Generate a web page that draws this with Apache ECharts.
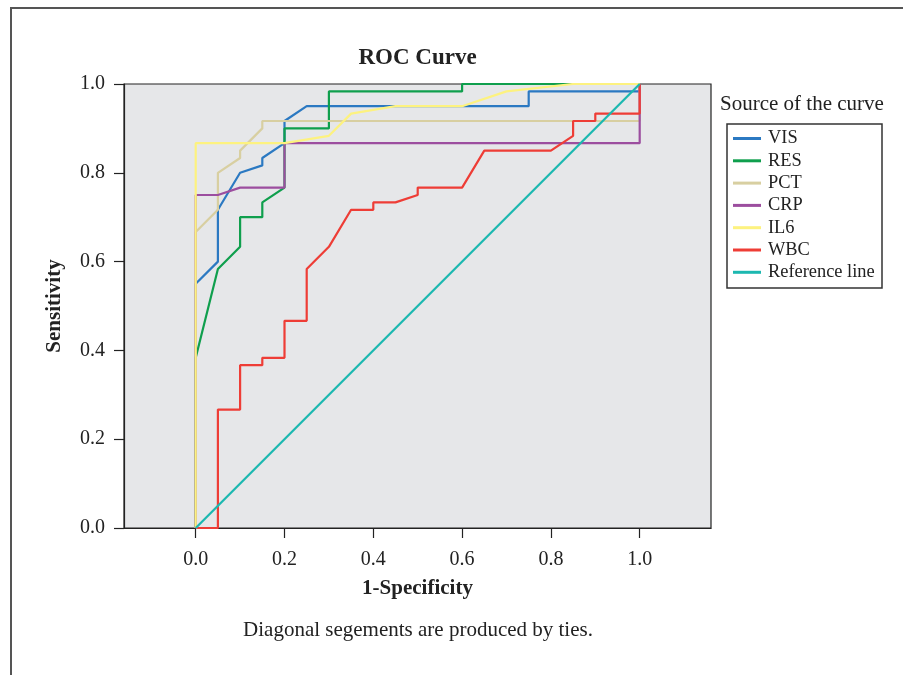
<!DOCTYPE html>
<html>
<head>
<meta charset="utf-8">
<script src="https://cdn.jsdelivr.net/npm/echarts@6/dist/echarts.min.js"></script>
<style>html,body{margin:0;padding:0;background:#fff}#c{width:903px;height:675px}</style>
</head>
<body>
<div id="c"></div>
<script>
const xTicks = [0, 0.2, 0.4, 0.6, 0.8, 1.0];
const seriesNames = ['VIS', 'RES', 'PCT', 'CRP', 'IL6', 'WBC', 'Reference line'];
const visX = [0, 0, 0.05, 0.05, 0.10, 0.15, 0.15, 0.20, 0.20, 0.25, 0.75, 0.75, 1.0, 1.0];
const visY = [0, 0.55, 0.60, 0.7167, 0.80, 0.8167, 0.8333, 0.8667, 0.9167, 0.95, 0.95, 0.9833, 0.9833, 1.0];
const resX = [0, 0, 0.05, 0.10, 0.10, 0.15, 0.15, 0.20, 0.20, 0.30, 0.30, 0.60, 0.60, 1.0];
const resY = [0, 0.3833, 0.5833, 0.6333, 0.70, 0.70, 0.7333, 0.7667, 0.90, 0.90, 0.9833, 0.9833, 1.0, 1.0];
const pctX = [0, 0, 0.05, 0.05, 0.10, 0.10, 0.15, 0.15, 1.0, 1.0];
const pctY = [0, 0.6667, 0.7167, 0.80, 0.8333, 0.85, 0.90, 0.9167, 0.9167, 1.0];
const crpX = [0, 0, 0.05, 0.10, 0.20, 0.20, 1.0, 1.0];
const crpY = [0, 0.75, 0.75, 0.7667, 0.7667, 0.8667, 0.8667, 1.0];
const il6X = [0, 0, 0.20, 0.30, 0.35, 0.45, 0.60, 0.70, 0.85, 1.0];
const il6Y = [0, 0.8667, 0.8667, 0.8833, 0.9333, 0.95, 0.95, 0.9833, 1.0, 1.0];
const wbcX = [0, 0.05, 0.05, 0.10, 0.10, 0.15, 0.15, 0.20, 0.20, 0.25, 0.25, 0.30, 0.35, 0.40, 0.40, 0.45, 0.50, 0.50, 0.60, 0.65, 0.80, 0.85, 0.85, 0.90, 0.90, 1.0, 1.0];
const wbcY = [0, 0, 0.2667, 0.2667, 0.3667, 0.3667, 0.3833, 0.3833, 0.4667, 0.4667, 0.5833, 0.6333, 0.7167, 0.7167, 0.7333, 0.7333, 0.75, 0.7667, 0.7667, 0.85, 0.85, 0.8833, 0.9167, 0.9167, 0.9333, 0.9333, 1.0];
const refX = [0, 1];
const refY = [0, 1];

const colors = ['#2b79c2', '#0f9f4d', '#d8cfa1', '#9c4e9f', '#fdf27f', '#ee3d36', '#1cb8b0'];
const xs = [visX, resX, pctX, crpX, il6X, wbcX, refX];
const ys = [visY, resY, pctY, crpY, il6Y, wbcY, refY];
const FONT = '"Liberation Serif", "Times New Roman", serif';

const series = seriesNames.map((n, i) => ({
  name: n,
  type: 'line',
  symbol: 'none',
  silent: true,
  animation: false,
  color: colors[i],
  itemStyle: { color: colors[i] },
  lineStyle: { color: colors[i], width: 2.2 },
  data: xs[i].map((x, j) => [x, ys[i][j]])
}));

const chart = echarts.init(document.getElementById('c'));
chart.setOption({
  animation: false,
  backgroundColor: '#fff',
  grid: {
    left: 124, top: 84, right: 192, bottom: 147,
    show: true, backgroundColor: '#e6e7e9', borderColor: '#222', borderWidth: 1.2
  },
  xAxis: {
    type: 'value', min: -0.1615, max: 1.1606,
    name: '1-Specificity', nameLocation: 'middle', nameGap: 50,
    nameTextStyle: { fontFamily: FONT, fontSize: 21, fontWeight: 'bold', color: '#222' },
    axisLine: { show: true, onZero: false, lineStyle: { color: '#222', width: 1.2 } },
    axisTick: { show: true, inside: false, length: 10, customValues: xTicks, lineStyle: { color: '#222', width: 1.2 } },
    axisLabel: { customValues: xTicks, margin: 22, fontFamily: FONT, fontSize: 20, color: '#222', formatter: v => v.toFixed(1) },
    splitLine: { show: false }
  },
  yAxis: {
    type: 'value', min: 0, max: 1, interval: 0.2,
    name: 'Sensitivity', nameLocation: 'middle', nameGap: 59,
    nameTextStyle: { fontFamily: FONT, fontSize: 21, fontWeight: 'bold', color: '#222' },
    axisLine: { show: true, onZero: false, lineStyle: { color: '#222', width: 1.2 } },
    axisTick: { show: true, inside: false, length: 10, lineStyle: { color: '#222', width: 1.2 } },
    axisLabel: { margin: 19, fontFamily: FONT, fontSize: 20, color: '#222', formatter: v => v.toFixed(1) },
    splitLine: { show: false }
  },
  legend: {
    orient: 'vertical', left: 733, top: 129.5, padding: 0,
    icon: 'rect',
    itemWidth: 28, itemHeight: 3, itemGap: 4.3,
    selectedMode: false,
    data: seriesNames,
    textStyle: { fontFamily: FONT, fontSize: 18.4, lineHeight: 18, color: '#222', padding: [0, 0, 0, 2] }
  },
  graphic: [
    { type: 'text', silent: true, z: 10,
      style: { text: 'ROC Curve', x: 417.5, y: 58, textAlign: 'center', textVerticalAlign: 'middle', font: 'bold 23px ' + FONT, fill: '#222' } },
    { type: 'text', silent: true, z: 10,
      style: { text: 'Source of the curve', x: 720, y: 104, textAlign: 'left', textVerticalAlign: 'middle', font: '21px ' + FONT, fill: '#222' } },
    { type: 'text', silent: true, z: 10,
      style: { text: 'Diagonal segements are produced by ties.', x: 418, y: 630, textAlign: 'center', textVerticalAlign: 'middle', font: '21px ' + FONT, fill: '#222' } },
    { type: 'rect', silent: true, z: 10,
      shape: { x: 727, y: 124, width: 155, height: 164 },
      style: { fill: 'none', stroke: '#333', lineWidth: 1.5 } },
    { type: 'polyline', silent: true, z: 10,
      shape: { points: [[11, 676], [11, 8], [904, 8]] },
      style: { fill: 'none', stroke: '#555', lineWidth: 2 } }
  ],
  series: series
});
</script>
</body>
</html>
